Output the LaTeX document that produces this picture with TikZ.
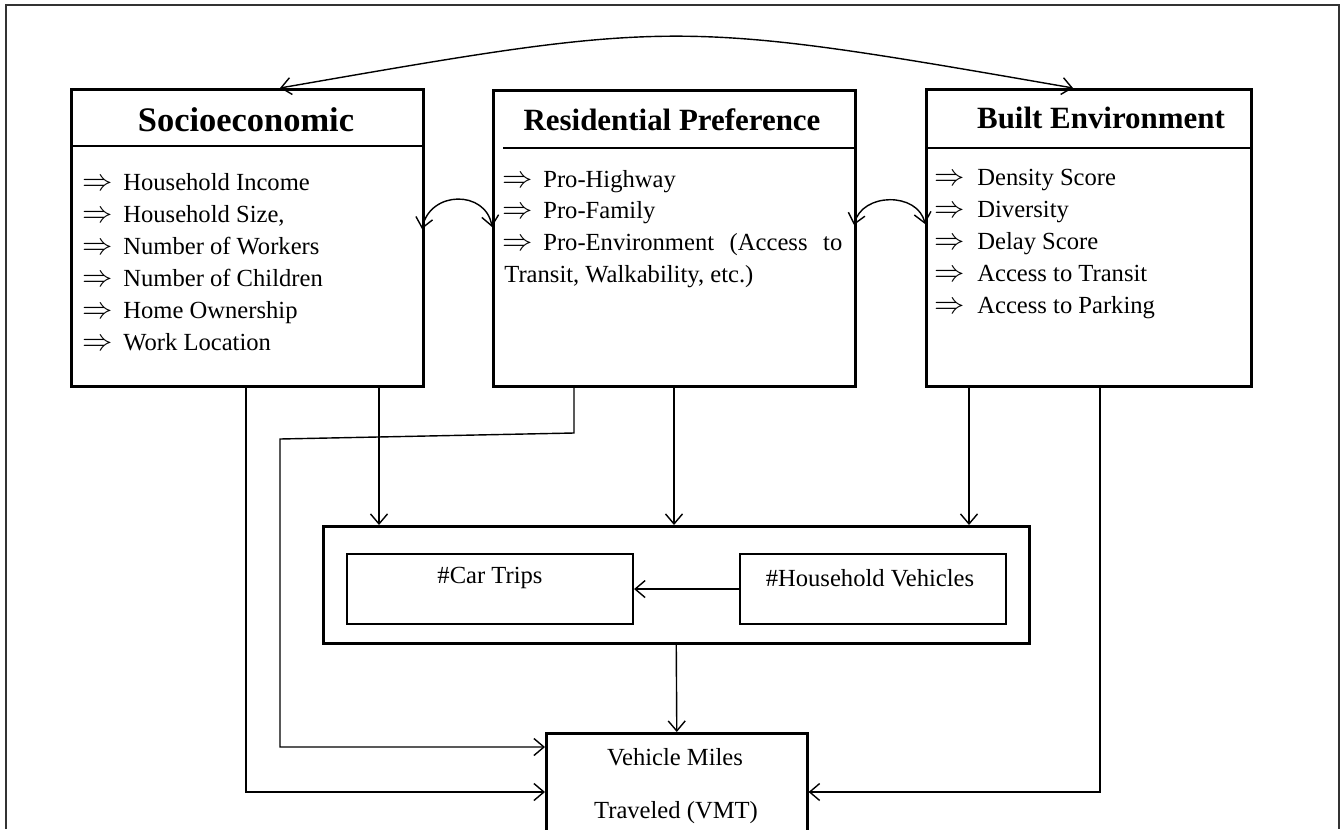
\documentclass[tikz,border=0pt]{standalone}
\usepackage{fontspec}
\setmainfont{Liberation Serif}
\usetikzlibrary{arrows.meta}

\begin{document}
\begin{tikzpicture}[x=0.02cm,y=-0.02cm,>={Straight Barb[length=2mm,width=3.4mm]}]
  \tikzstyle{every node} = [font=\fontsize{14}{18}\selectfont, inner sep=0pt]
  \tikzstyle{box} = [draw, line width=1.5pt, anchor=north west]
  \tikzstyle{subbox} = [draw, line width=1.2pt, anchor=north west]
  \tikzstyle{title} = [font=\fontsize{17.6}{21}\selectfont\bfseries]
  \tikzstyle{item} = [anchor=base west]
  \tikzstyle{bullet} = [anchor=base west, font=\fontsize{16}{18}\selectfont]
  \tikzstyle{conn} = [line width=0.8pt, ->]
  \tikzstyle{sep} = [line width=1.3pt]

  \clip (0,0) rectangle (1343,829);
  \draw[line width=1.1pt, black!80] (6,829) -- (6,5) -- (1339,5) -- (1339,829);

  % factor boxes
  \node[box, minimum width=7.04cm, minimum height=5.94cm] (se) at (70,88) {};
  \node[box, minimum width=7.24cm, minimum height=5.92cm] (rp) at (492,89) {};
  \node[box, minimum width=6.5cm, minimum height=5.94cm] (be) at (925,88) {};
  \draw[sep] (70,146) -- (422,146);
  \draw[sep] (503,148) -- (854,148);
  \draw[sep] (925,148) -- (1250,148);

  \node[title, font=\fontsize{19.6}{22}\selectfont\bfseries] (se-t) at (246,120) {Socioeconomic};
  \node[title] (rp-t) at (672,120) {Residential Preference};
  \node[title] (be-t) at (1101,118) {Built Environment};

  \foreach \t [count=\i] in {Household Income,{Household Size,},Number of Workers,Number of Children,Home Ownership,Work Location}{
    \node[bullet] (se-a\i) at (82,{190+32*(\i-1)}) {$\Rightarrow$};
    \node[item] (se-\i) at (123,{190+32*(\i-1)}) {\t};
  }
  \foreach \t [count=\i] in {Pro-Highway,Pro-Family}{
    \node[bullet] (rp-a\i) at (502,{187+31.5*(\i-1)}) {$\Rightarrow$};
    \node[item] (rp-\i) at (543,{187+31.5*(\i-1)}) {\t};
  }
  \node[item] (rp-3) at (502,250) {\hbox to 6.8cm{\makebox[0.82cm][l]{\fontsize{16}{18}\selectfont$\Rightarrow$}Pro-Environment\hfill(Access\hfill to}};
  \node[item] (rp-4) at (504,282) {Transit, Walkability, etc.)};
  \foreach \t [count=\i] in {Density Score,Diversity,Delay Score,Access to Transit,Access to Parking}{
    \node[bullet] (be-a\i) at (934,{185+32*(\i-1)}) {$\Rightarrow$};
    \node[item] (be-\i) at (977,{185+32*(\i-1)}) {\t};
  }

  % trips and vehicles
  \node[box, minimum width=14.12cm, minimum height=2.34cm] (mid) at (322,525) {};
  \node[subbox, minimum width=5.72cm, minimum height=1.4cm] (ct) at (346,553) {};
  \node[subbox, minimum width=5.32cm, minimum height=1.4cm] (hv) at (739,553) {};
  \node (ct-t) at (490,578) {\#Car Trips};
  \node (hv-t) at (870,578) {\#Household Vehicles};

  % VMT
  \node[box, minimum width=5.22cm, minimum height=2.6cm] (vmt) at (545,732) {};
  \node (vmt-1) at (675,757) {Vehicle Miles};
  \node (vmt-2) at (676,813) {Traveled (VMT)};

  % connectors
  \coordinate (topL) at (280,0);
  \coordinate (topR) at (1073,0);
  \draw[conn,<->] (se.north -| topL) .. controls (676,19) .. (be.north -| topR);
  \draw[conn,<->] (422,229) .. controls (430,190) and (486,190) .. (492,227);
  \draw[conn,<->] (854,225) .. controls (862,192) and (918,192) .. (925,224);

  \coordinate (semid) at (379,0);
  \coordinate (rpmid) at (674,0);
  \coordinate (bemid) at (969,0);
  \draw[conn] (se.south -| semid) -- (mid.north -| semid);
  \draw[conn] (rp.south -| rpmid) -- (mid.north -| rpmid);
  \draw[conn] (be.south -| bemid) -- (mid.north -| bemid);

  \draw[conn] (hv.west) -- (ct.east);
  \draw[conn] (mid.south) -- (vmt.north);

  \coordinate (sevmt) at (246,792);
  \coordinate (bevmt) at (1100,792);
  \coordinate (bendA) at (574,433);
  \coordinate (bendB) at (280,439);
  \coordinate (rpvmt) at (280,747);
  \draw[conn] (se.south -| sevmt) |- (vmt.west |- sevmt);
  \draw[conn] (be.south -| bevmt) |- (vmt.east |- bevmt);
  \draw[conn] (rp.south -| bendA) -- (bendA) -- (bendB) |- (vmt.west |- rpvmt);
\end{tikzpicture}
\end{document}
